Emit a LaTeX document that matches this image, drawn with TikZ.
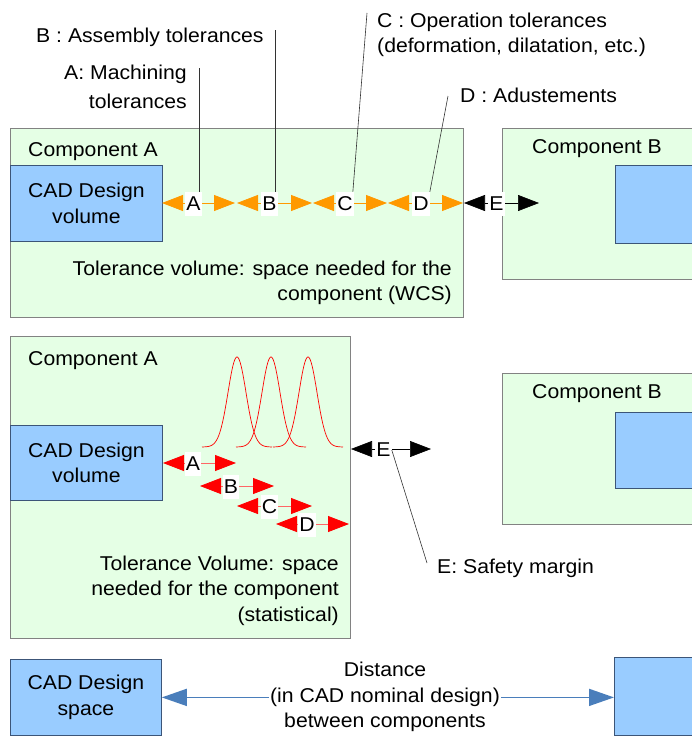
\documentclass[tikz,border=0pt]{standalone}
\usepackage{fontspec}
\setmainfont{Liberation Sans}[FakeStretch=1.06]
\usetikzlibrary{arrows.meta}

\definecolor{compgreen}{RGB}{229,255,229}
\definecolor{compline}{RGB}{130,130,130}
\definecolor{cadblue}{RGB}{153,204,255}
\definecolor{cadline}{RGB}{60,85,120}
\definecolor{tolorange}{RGB}{255,153,0}
\definecolor{distblue}{RGB}{74,126,187}

\begin{document}
\begin{tikzpicture}[
    x=1pt, y=-1pt,
    font=\fontsize{20}{25.5}\selectfont,
    compbox/.style={rectangle, draw=compline, fill=compgreen, line width=1pt,
                    anchor=north west, inner sep=0pt},
    cadbox/.style={rectangle, draw=cadline, fill=cadblue, line width=0.8pt,
                   anchor=north west, inner sep=0pt, align=center},
    txt/.style={inner sep=0pt},
    lbl/.style={fill=white, inner xsep=1pt, inner ysep=0pt, minimum height=24pt},
    leader/.style={draw=black!80, line width=0.6pt},
    tolarrow/.style={tolorange, line width=0.8pt,
        {Triangle[length=21pt, width=16pt]}-{Triangle[length=21pt, width=16pt]}},
    statarrow/.style={red!60, line width=0.8pt,
        {Triangle[length=21pt, width=16pt, color=red]}-{Triangle[length=21pt, width=16pt, color=red]}},
    gaparrow/.style={black, line width=0.6pt,
        {Triangle[length=21pt, width=16pt]}-{Triangle[length=21pt, width=16pt]}},
    distarrow/.style={distblue, line width=1.6pt,
        {Triangle[length=25pt, width=17pt]}-{Triangle[length=25pt, width=17pt]}},
]
\useasboundingbox (0,0) rectangle (691,744);

% Legende
\node[txt, anchor=base west] (txtB) at (36,42) {B : Assembly tolerances};
\node[txt, anchor=north east, align=right] (txtA) at (187,64.5) {A: Machining\\[3.5pt]tolerances};
\node[txt, anchor=north west, align=left] (txtC) at (377,12.5) {C : Operation tolerances\\(deformation, dilatation, etc.)};
\node[txt, anchor=base west] (txtD) at (460,102) {D : Adustements};

% Worst case
\node[compbox, minimum width=453pt, minimum height=189pt] (compA1) at (10,128) {};
\node[compbox, minimum width=193pt, minimum height=151pt] (compB1) at (502,128) {};
\node[cadbox, minimum width=152pt, minimum height=76pt] (cad1) at (10,165) {CAD Design\\volume};
\node[cadbox, minimum width=80pt, minimum height=78pt] (cadB1) at (615,165) {};
\node[txt, anchor=base west] (nameA1) at (28,156) {Component A};
\node[txt, anchor=base west] (nameB1) at (532,153) {Component B};
\node[txt, anchor=north east, align=right] (tolwcs) at (452,260.5)
    {Tolerance volume: space needed for the\\component (WCS)};

\foreach \n/\l/\r/\m/\t in {a/162/235/193.5/A, b/237/312/269.5/B,
                            c/313/387/345/C, d/388/463/421/D} {
    \coordinate (w\n L) at (\l,203);
    \coordinate (w\n R) at (\r,203);
    \draw[tolarrow] (w\n L) -- (w\n R);
    \node[lbl] (w\n) at (\m,204) {\t};
}
\coordinate (weL) at (464,203);
\coordinate (weR) at (539,203);
\draw[gaparrow] (weL) -- (weR);
\node[lbl] (we) at (496.5,204) {E};

% Lignes de rappel
\coordinate (ldrA) at (199,68);
\coordinate (ldrB) at (275,30);
\coordinate (ldrC) at (367,13);
\coordinate (ldrD) at (448,96);
\draw[leader] (ldrA) -- (ldrA |- wa.north);
\draw[leader] (ldrB) -- (ldrB |- wb.north);
\draw[leader] (ldrC) -- ([xshift=-1pt]wc.north east);
\draw[leader] (ldrD) -- (wd.north east);

% Statistique
\node[compbox, minimum width=340pt, minimum height=302pt] (compA2) at (10,336) {};
\node[compbox, minimum width=193pt, minimum height=151pt] (compB2) at (502,373) {};
\node[cadbox, minimum width=152pt, minimum height=75pt] (cad2) at (10,425) {CAD Design\\volume};
\node[cadbox, minimum width=80pt, minimum height=76pt] (cadB2) at (615,412) {};
\node[txt, anchor=base west] (nameA2) at (28,365) {Component A};
\node[txt, anchor=base west] (nameB2) at (532,398) {Component B};
\node[txt, anchor=north east, align=right] (tolstat) at (339,555.5)
    {Tolerance Volume: space\\needed for the component\\(statistical)};

\foreach \mu in {237,271,308}
    \draw[red, line width=0.7pt, domain=-35:35, samples=80, smooth]
        plot ({\mu+\x}, {447-90*exp(-(\x*\x)/162)});

\foreach \n/\l/\r/\m/\y/\t in {a/163/236/193/463/A, b/200/274/231/486/B,
                               c/237/312/269.5/506/C, d/276/349/307/524/D} {
    \coordinate (s\n L) at (\l,\y);
    \coordinate (s\n R) at (\r,\y);
    \draw[statarrow] (s\n L) -- (s\n R);
    \node[lbl] (s\n) at (\m,\y+1) {\t};
}
\coordinate (seL) at (351,449);
\coordinate (seR) at (431,449);
\draw[gaparrow] (seL) -- (seR);
\node[lbl] (se) at (383.5,450) {E};

\node[txt, anchor=base west] (safety) at (437,573) {E: Safety margin};
\coordinate (safetyTip) at (427,563);
\draw[leader] (se.east) -- (safetyTip);

% Nominal
\node[cadbox, minimum width=151pt, minimum height=76pt] (cad3) at (10,659) {CAD Design\\space};
\node[cadbox, minimum width=80pt, minimum height=78pt] (cadB3) at (614,657) {};
\draw[distarrow] (cad3.east) -- (cad3.east -| cadB3.west);
\node[fill=white, inner xsep=1pt, inner ysep=0pt, align=center] (dist) at (385,697)
    {Distance\\(in CAD nominal design)\\between components};

\end{tikzpicture}
\end{document}
